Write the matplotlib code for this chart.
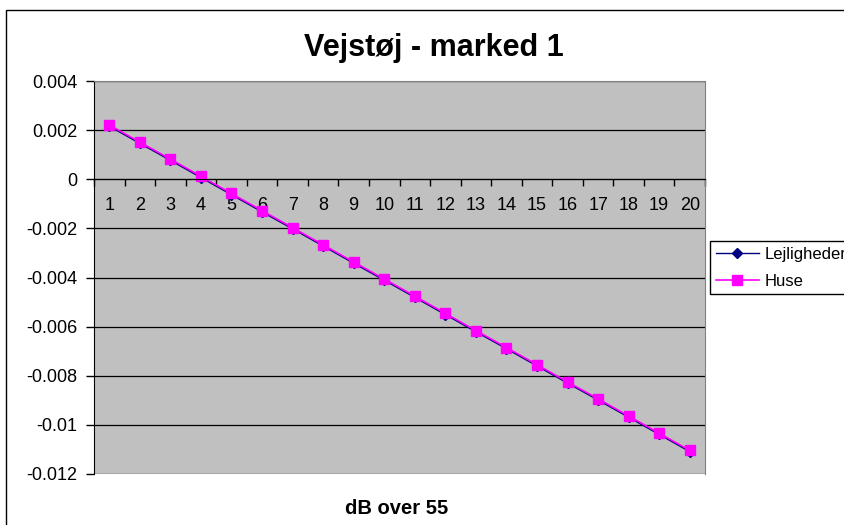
import matplotlib.pyplot as plt
import numpy as np
from matplotlib.patches import Rectangle

plt.rcParams['font.family'] = ['Liberation Sans', 'DejaVu Sans']
plt.rcParams['axes.unicode_minus'] = False

# data
categories = [str(i) for i in range(1, 21)]
huse = [0.00221, 0.00151, 0.00082, 0.00012, -0.00058, -0.00128, -0.00197, -0.00267,
        -0.00337, -0.00406, -0.00476, -0.00546, -0.00616, -0.00685, -0.00755, -0.00825,
        -0.00894, -0.00964, -0.01034, -0.01104]
lejligheder = [0.00216, 0.00146, 0.00077, 0.00007, -0.00063, -0.00133, -0.00202, -0.00272,
               -0.00342, -0.00411, -0.00481, -0.00551, -0.00621, -0.00690, -0.00760, -0.00830,
               -0.00899, -0.00969, -0.01039, -0.01109]
y_ticks = [0.004, 0.002, 0.0, -0.002, -0.004, -0.006, -0.008, -0.01, -0.012]

W, H = 845, 525
fig = plt.figure(figsize=(W / 100, H / 100), dpi=100)

# outer chart border (cropped on right and bottom in the reference)
fig.patches.append(Rectangle((6 / W, -0.1), 1.2, 1 - 10 / H + 0.1, transform=fig.transFigure,
                             fill=False, edgecolor='black', linewidth=1.0))

ax = fig.add_axes([94 / W, 1 - 474 / H, (705 - 94) / W, (474 - 81) / H])
ax.set_facecolor('#C0C0C0')

x = np.arange(1, len(categories) + 1)
ax.plot(x, lejligheder, color='#000080', marker='D', markersize=5, linewidth=1.0,
        label='Lejligheder')
ax.plot(x, huse, color='#FF00FF', marker='s', markersize=7, linewidth=1.2,
        label='Huse')

ax.set_xlim(0.5, len(categories) + 0.5)
ax.set_ylim(-0.012, 0.004)

# horizontal gridlines
for yv in y_ticks:
    ax.axhline(yv, color='black', linewidth=0.9, zorder=1)

# category axis crosses at 0
for side in ['top', 'right']:
    ax.spines[side].set_color('#808080')
ax.spines['bottom'].set_position(('data', 0))
ax.spines['bottom'].set_color('black')
ax.spines['left'].set_color('black')

ax.set_xticks(np.arange(0.5, len(categories) + 1, 1.0))
ax.set_xticklabels([])
ax.tick_params(axis='x', which='major', direction='out', length=5, width=1, color='black')
ax.set_xticks(x, minor=True)
ax.set_xticklabels(categories, minor=True)
ax.tick_params(axis='x', which='minor', length=0, pad=13, labelsize=13)

ax.set_yticks(y_ticks)
ax.set_yticklabels(['%g' % v for v in y_ticks])
ax.tick_params(axis='y', direction='out', length=6, width=1, pad=6, labelsize=13)

fig.text(434 / W, 1 - 48 / H, 'Vejstøj - marked 1', ha='center', va='center',
         fontsize=22, fontweight='bold')
fig.text(397 / W, 1 - 509 / H, 'dB over 55', ha='center', va='center',
         fontsize=14.5, fontweight='bold')

leg = fig.legend(loc='upper left', bbox_to_anchor=(710 / W, 1 - 241 / H), fontsize=12,
                 frameon=True, fancybox=False, edgecolor='black', framealpha=1,
                 borderpad=0.35, handlelength=2.6, handletextpad=0.35, labelspacing=0.7,
                 borderaxespad=0)
leg.get_frame().set_linewidth(1.0)

fig.savefig('out.png', dpi=100)
